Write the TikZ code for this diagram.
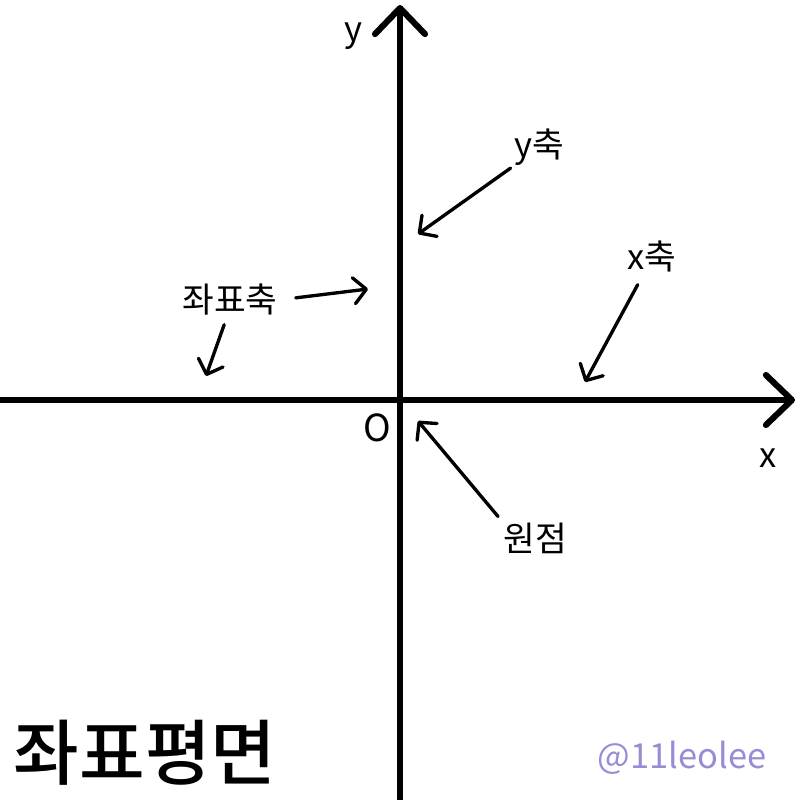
\documentclass[tikz,border=0pt]{standalone}
\usepackage{fontspec}
\setmainfont{Noto Sans CJK KR}
\newfontfamily\titlefont{Noto Sans CJK KR Medium}
\usetikzlibrary{arrows.meta}
\definecolor{handle}{RGB}{152,140,212}

\begin{document}
\begin{tikzpicture}[x=0.01cm,y=-0.01cm,
	axis/.style={line width=1.75pt,line cap=round,-{Straight Barb[length=2.6mm,width=5mm,line cap=round,line join=round]}},
	pointer/.style={line width=0.95pt,line cap=round,-{Straight Barb[length=1.25mm,width=2.6mm,line cap=round,line join=round]}},
	lbl/.style={inner sep=0pt,font=\fontsize{9.8}{11}\selectfont}]

	\useasboundingbox (0,0) rectangle (800,800);

	% axes
	\coordinate (xl) at (-5,400);
	\coordinate (xr) at (795,400);
	\coordinate (yb) at (400,805);
	\coordinate (yt) at (400,5);
	\path[axis] (xl) edge (xr);
	\path[axis] (yb) edge (yt);

	\node[lbl] (x) at (768,458) {x};
	\node[lbl] (y) at (353,36) {y};
	\node[lbl,font=\fontsize{10.6}{12}\selectfont] (o) at (377,428) {O};

	% labels
	\node[lbl] (yaxis) at (539,147) {y축};
	\node[lbl] (xaxis) at (652,256) {x축};
	\node[lbl] (axes) at (230,300) {좌표축};
	\node[lbl] (origin) at (535,538) {원점};

	\coordinate (yaxistip) at (418,234);
	\coordinate (xaxistip) at (585,382);
	\coordinate (axestip1) at (368,289);
	\coordinate (axestip2) at (206,376);
	\coordinate (origintip) at (418,421);

	\path[pointer,shorten <=1pt] (yaxis.south west) edge (yaxistip);
	\path[pointer,shorten <=4pt] (xaxis.-115) edge (xaxistip);
	\path[pointer,shorten <=5pt] (axes.east) edge (axestip1);
	\path[pointer,shorten <=2.5pt] (axes.-100) edge (axestip2);
	\path[pointer,shorten <=2pt] (origin.north west) edge (origintip);

	\node[lbl,font=\titlefont\fontsize{20.3}{23}\selectfont] (title) at (145,753) {좌표평면};
	\node[lbl,text=handle] (handle) at (682,758) {@11leolee};
\end{tikzpicture}
\end{document}
